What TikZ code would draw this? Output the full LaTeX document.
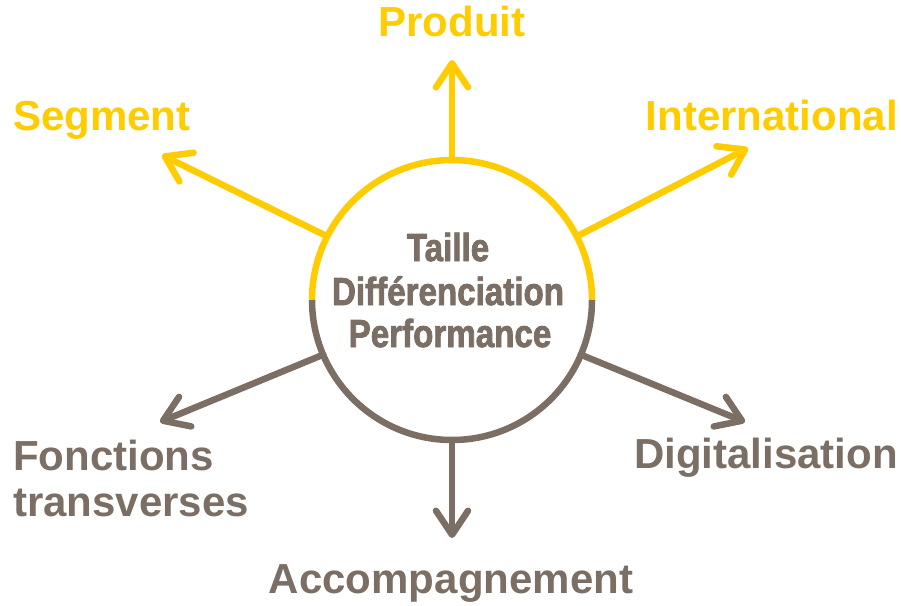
\documentclass[tikz,border=0pt]{standalone}
\usepackage{fontspec}
\setmainfont{Liberation Sans}
\newfontfamily\heavyfont[FakeBold=2.2]{Liberation Sans Bold}
\usetikzlibrary{arrows.meta}
\definecolor{gold}{HTML}{FFCC00}
\definecolor{taupe}{HTML}{7A6E65}
\begin{document}
\begin{tikzpicture}[x=1pt,y=1pt,
  arr/.style={line width=6.5pt,line cap=round,line join=round,-{Straight Barb[length=24pt,width=32pt,line cap=round,line join=round]}},
  lbl/.style={inner sep=0pt,font=\fontsize{42}{48}\bfseries\selectfont},
  mid/.style={inner sep=0pt,text=taupe,font=\fontsize{39}{44}\heavyfont}]
\useasboundingbox[fill=white] (0,0) rectangle (901,-605);
\node[circle,minimum size=280pt,inner sep=0pt,outer sep=0pt] (c) at (452,-300) {};
\draw[gold,line width=6.5pt] (c.east) arc[start angle=0,end angle=180,radius=140pt];
\draw[taupe,line width=6.5pt] (c.west) arc[start angle=180,end angle=360,radius=140pt];
\coordinate (tp) at (452,-60);
\coordinate (ts) at (162,-155);
\coordinate (ti) at (748,-148);
\coordinate (tf) at (160,-422);
\coordinate (td) at (745,-422);
\coordinate (ta) at (452,-538);
\draw[arr,gold] (c.90) -- (tp);
\draw[arr,gold] (c.153) -- (ts);
\draw[arr,gold] (c.27) -- (ti);
\draw[arr,taupe] (c.-157) -- (tf);
\draw[arr,taupe] (c.-23) -- (td);
\draw[arr,taupe] (c.-90) -- (ta);
\node[mid,anchor=base] (m1) at (448,-261) {\scalebox{0.85}[1]{Taille}};
\node[mid,anchor=base] (m2) at (448,-305) {\scalebox{0.85}[1]{Différenciation}};
\node[mid,anchor=base] (m3) at (450,-347) {\scalebox{0.85}[1]{Performance}};
\node[lbl,text=gold,anchor=base] (lp) at (452,-36) {Produit};
\node[lbl,text=gold,anchor=base west] (ls) at (13,-130) {Segment};
\node[lbl,text=gold,anchor=base east] (li) at (898,-130) {International};
\node[lbl,text=taupe,anchor=base west] (lf1) at (13,-470) {Fonctions};
\node[lbl,text=taupe,anchor=base west] (lf2) at (13,-516) {transverses};
\node[lbl,text=taupe,anchor=base east] (ld) at (898,-468) {Digitalisation};
\node[lbl,text=taupe,anchor=base] (la) at (451,-593) {Accompagnement};
\end{tikzpicture}
\end{document}
